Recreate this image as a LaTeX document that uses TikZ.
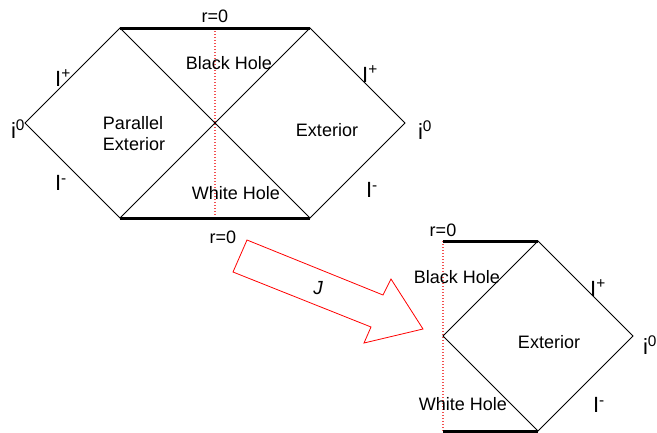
\documentclass[tikz,border=0pt]{standalone}
\usepackage{fontspec}
\setmainfont{Liberation Sans}
\definecolor{dotred}{RGB}{242,80,80}
\begin{document}
\begin{tikzpicture}[x=1pt,y=-1pt,
  lbl/.style={font=\fontsize{18}{21}\selectfont, inner sep=0pt},
  big/.style={font=\fontsize{22}{24}\selectfont, inner sep=0pt},
  edge/.style={line width=0.8pt, line join=miter},
  sing/.style={line width=3pt},
  rdot/.style={fill=dotred},
  maparrow/.style={red, line width=0.8pt, line join=miter}]
\useasboundingbox (0,0) rectangle (657,432);
% upper (full) diagram
\coordinate (L) at (25,123);
\coordinate (TL) at (120,28);
\coordinate (TR) at (310,28);
\coordinate (BL) at (120,218);
\coordinate (BR) at (310,218);
\coordinate (R) at (405,123);
\foreach \yy in {28,31,...,216} \fill[rdot] (214.4,\yy) rectangle (215.6,\yy+1.3);
\draw[edge] (L) -- (TL) -- (BR) -- (R) -- (TR) -- (BL) -- cycle;
\draw[sing] (TL) -- (TR);
\draw[sing] (BL) -- (BR);
\node[lbl] (rtop) at (215,16) {r=0};
\node[lbl] (rbot) at (223,237) {r=0};
\node[lbl] (bh) at (229,63) {Black Hole};
\node[lbl] (wh) at (236,193) {White Hole};
\node[lbl, align=left] (pe) at (134,134) {Parallel\\Exterior};
\node[lbl] (ex) at (327,130) {Exterior};
\node[big] (ipl) at (63,78) {I\textsuperscript{+}};
\node[big] (iml) at (61,183) {I\textsuperscript{-}};
\node[big] (i0l) at (18,129) {i\textsuperscript{0}};
\node[big] (ipr) at (370,74) {I\textsuperscript{+}};
\node[big] (imr) at (372,190) {I\textsuperscript{-}};
\node[big] (i0r) at (425,130) {i\textsuperscript{0}};
% map arrow
\coordinate (a1) at (247,240);
\coordinate (a2) at (383,295);
\coordinate (a3) at (391,279);
\coordinate (a4) at (423,329);
\coordinate (a5) at (364,343);
\coordinate (a6) at (371,327);
\coordinate (a7) at (233,272);
\draw[maparrow] (a1) -- (a2) -- (a3) -- (a4) -- (a5) -- (a6) -- (a7) -- cycle;
\node[lbl, font=\fontsize{19}{21}\selectfont\itshape] (J) at (318,288) {J};
% lower (half) diagram
\coordinate (hTL) at (443,241);
\coordinate (hTR) at (538,241);
\coordinate (hL) at (443,336);
\coordinate (hR) at (633,336);
\coordinate (hBR) at (538,431);
\coordinate (hBL) at (443,431);
\foreach \yy in {241,244,...,430} \fill[rdot] (442.4,\yy) rectangle (443.6,\yy+1.3);
\draw[edge] (hTR) -- (hL) -- (hBR) -- (hR) -- cycle;
\draw[sing] (hTL) -- (hTR);
\draw[sing] (hBL) -- (hBR);
\node[lbl] (rh) at (443,230) {r=0};
\node[lbl] (bh2) at (457,277) {Black Hole};
\node[lbl] (wh2) at (463,404) {White Hole};
\node[lbl] (ex2) at (549,342) {Exterior};
\node[big] (ip2) at (598,288) {I\textsuperscript{+}};
\node[big] (im2) at (599,405) {I\textsuperscript{-}};
\node[big] (i02) at (650,345) {i\textsuperscript{0}};
\end{tikzpicture}
\end{document}
